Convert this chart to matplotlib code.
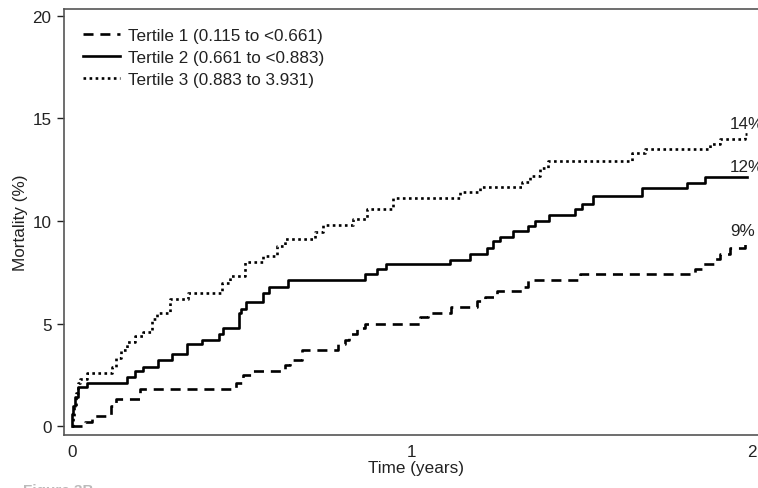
import numpy as np
import matplotlib
matplotlib.use('Agg')
import matplotlib.pyplot as plt

plt.rcParams['font.family'] = ['Liberation Sans', 'DejaVu Sans']

# Tiempos (años) y mortalidad acumulada (%)
t1_time = [0, 0.038, 0.059, 0.115, 0.129, 0.200, 0.482, 0.503, 0.532, 0.626, 0.641,
           0.676, 0.782, 0.803, 0.815, 0.838, 0.862, 1.024, 1.047, 1.115, 1.191,
           1.215, 1.250, 1.324, 1.341, 1.494, 1.832, 1.853, 1.891, 1.906, 1.935,
           1.979, 1.985]
t1_mort = [0, 0.2, 0.5, 1.0, 1.3, 1.8, 2.1, 2.5, 2.7, 3.0, 3.2,
           3.7, 4.0, 4.2, 4.5, 4.8, 5.0, 5.3, 5.5, 5.8, 6.1,
           6.3, 6.6, 6.8, 7.1, 7.4, 7.65, 7.9, 8.15, 8.4, 8.7,
           9.0, 9.0]

t2_time = [0, 0.001, 0.004, 0.009, 0.018, 0.044, 0.162, 0.185, 0.209, 0.253, 0.294,
           0.338, 0.382, 0.432, 0.444, 0.491, 0.497, 0.512, 0.562, 0.579, 0.635,
           0.862, 0.897, 0.924, 1.112, 1.171, 1.221, 1.238, 1.259, 1.297, 1.341,
           1.362, 1.403, 1.479, 1.500, 1.532, 1.676, 1.809, 1.862, 1.985]
t2_mort = [0, 0.6, 1.0, 1.4, 1.9, 2.1, 2.4, 2.7, 2.9, 3.2, 3.5,
           4.0, 4.2, 4.5, 4.8, 5.5, 5.7, 6.05, 6.5, 6.8, 7.1,
           7.4, 7.65, 7.9, 8.1, 8.4, 8.7, 9.0, 9.2, 9.5, 9.75,
           10.0, 10.3, 10.6, 10.85, 11.2, 11.6, 11.85, 12.15, 12.15]

t3_time = [0, 0.003, 0.006, 0.012, 0.018, 0.024, 0.044, 0.118, 0.129, 0.144, 0.162,
           0.185, 0.209, 0.235, 0.250, 0.288, 0.341, 0.441, 0.465, 0.509, 0.562,
           0.603, 0.626, 0.715, 0.738, 0.826, 0.868, 0.944, 1.141, 1.200, 1.324,
           1.347, 1.376, 1.400, 1.647, 1.685, 1.876, 1.906, 1.979, 1.985]
t3_mort = [0, 0.5, 1.0, 1.6, 2.1, 2.3, 2.6, 2.9, 3.3, 3.7, 4.1,
           4.4, 4.6, 5.2, 5.5, 6.2, 6.5, 7.0, 7.3, 8.0, 8.3,
           8.8, 9.1, 9.45, 9.8, 10.1, 10.6, 11.1, 11.4, 11.65, 11.9,
           12.2, 12.6, 12.9, 13.3, 13.5, 13.75, 14.0, 14.25, 14.25]

labels = ['Tertile 1 (0.115 to <0.661)', 'Tertile 2 (0.661 to <0.883)',
          'Tertile 3 (0.883 to 3.931)']
end_labels = ['9%', '12%', '14%']

fs = 12.3
fig = plt.figure(figsize=(7.58, 4.89), dpi=100)
ax = fig.add_axes([0.0844, 0.108, 0.93, 0.872])

lw = 1.9
l1, = ax.step(t1_time, t1_mort, where='post', color='black', lw=lw,
              linestyle=(0, (3.8, 2.6)), dash_capstyle='butt')
l2, = ax.step(t2_time, t2_mort, where='post', color='black', lw=lw)
l3, = ax.step(t3_time, t3_mort, where='post', color='black', lw=lw,
              linestyle=(0, (1.0, 1.3)))

# Etiquetas al final de cada curva
for serie, txt in zip([t1_mort, t2_mort, t3_mort], end_labels):
    ax.text(1.935, serie[-1] + 0.15, txt, ha='left', va='bottom', fontsize=fs,
            color='#222222')

ax.set_xlim(-0.0235, 2.05)
ax.set_ylim(-0.44, 20.34)
ax.set_xticks([0, 1, 2])
ax.set_yticks([0, 5, 10, 15, 20])
ax.tick_params(axis='x', length=0, pad=6, labelsize=fs, colors='#222222')
ax.tick_params(axis='y', length=5, width=1, pad=4, labelsize=fs, colors='#222222')
for s in ax.spines.values():
    s.set_color('#555555')
    s.set_linewidth(1.2)

ax.set_xlabel('Time (years)', fontsize=fs, color='#222222', labelpad=1)
ax.set_ylabel('Mortality (%)', fontsize=fs, color='#222222', labelpad=3)

ax.legend([l1, l2, l3], labels, loc='upper left', frameon=False, fontsize=fs,
          handlelength=2.2, handletextpad=0.45, labelspacing=0.42,
          borderaxespad=0.7, borderpad=0.4, labelcolor='#222222')

fig.text(0.03, 1 - 484 / 489, 'Figure 3B', fontsize=11, fontweight='bold',
         color='#bbbbbb', va='top', ha='left')

fig.savefig('out.png', dpi=100)
